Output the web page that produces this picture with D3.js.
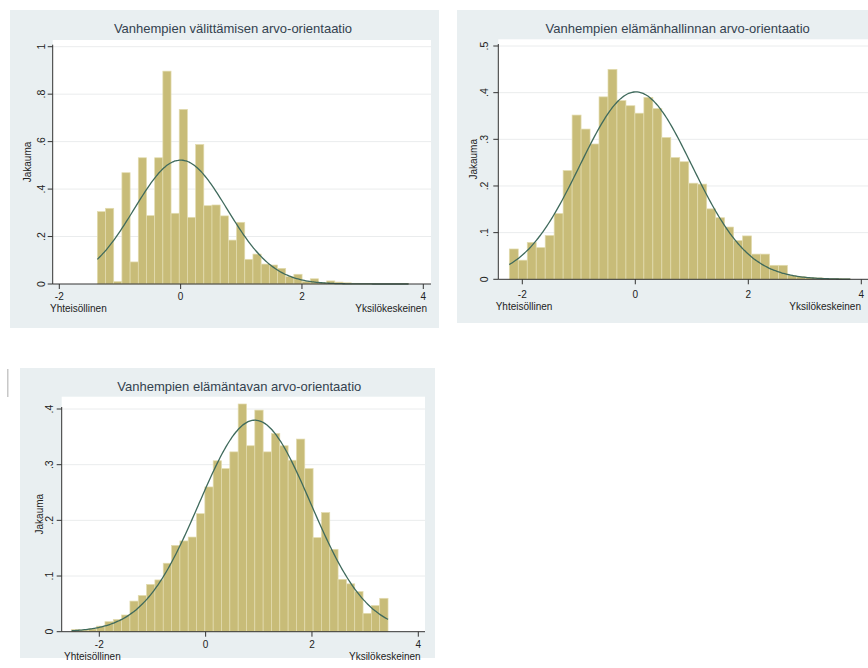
<!DOCTYPE html>
<html>
<head>
<meta charset="utf-8">
<script src="https://cdn.jsdelivr.net/npm/d3@7"></script>
<style>
  body { margin: 0; background: #ffffff; }
  svg { display: block; }
  text { font-family: "Liberation Sans", Arial, sans-serif; }
</style>
</head>
<body>
<svg id="chart" width="868" height="668"></svg>
<script>
// ---------- data ----------
const titles = [
  "Vanhempien välittämisen arvo-orientaatio",
  "Vanhempien elämänhallinnan arvo-orientaatio",
  "Vanhempien elämäntavan arvo-orientaatio"
];
const yAxisTitle = "Jakauma";
const leftLabel = "Yhteisöllinen";
const rightLabel = "Yksilökeskeinen";
const xTicks = [-2, 0, 2, 4];

// Panel 1: välittäminen
const p1BinStart = -1.373, p1BinWidth = 0.135;
const p1Density = [0.305, 0.319, 0.010, 0.469, 0.093, 0.532, 0.288, 0.532, 0.897, 0.298,
                   0.736, 0.281, 0.588, 0.330, 0.333, 0.287, 0.185, 0.260, 0.104, 0.126,
                   0.084, 0.080, 0.066, 0.031, 0.041, 0.011, 0.022, 0.006, 0.013, 0.008,
                   0.005, 0.003, 0.002, 0.002, 0.001, 0.001, 0.001, 0.002];
const p1Normal = [0.0, 0.764];   // mean, sd
const p1YTicks = [0, 0.2, 0.4, 0.6, 0.8, 1];

// Panel 2: elämänhallinta
const p2BinStart = -2.23, p2BinWidth = 0.1588;
const p2Density = [0.065, 0.041, 0.079, 0.068, 0.094, 0.141, 0.233, 0.352, 0.322, 0.290,
                   0.391, 0.450, 0.383, 0.372, 0.356, 0.390, 0.366, 0.304, 0.261, 0.252,
                   0.206, 0.204, 0.151, 0.132, 0.112, 0.083, 0.093, 0.054, 0.054, 0.030,
                   0.030, 0.008, 0.006, 0.004, 0.003, 0.002, 0.002, 0.001];
const p2Normal = [0.01, 0.993];
const p2YTicks = [0, 0.1, 0.2, 0.3, 0.4, 0.5];

// Panel 3: elämäntapa
const p3BinStart = -2.52, p3BinWidth = 0.1566;
const p3Density = [0.004, 0.003, 0.005, 0.010, 0.018, 0.022, 0.030, 0.055, 0.065, 0.085,
                   0.093, 0.123, 0.155, 0.163, 0.170, 0.212, 0.260, 0.307, 0.293, 0.323,
                   0.409, 0.334, 0.398, 0.323, 0.356, 0.334, 0.308, 0.346, 0.293, 0.169,
                   0.214, 0.148, 0.094, 0.086, 0.072, 0.033, 0.047, 0.060];
const p3Normal = [0.927, 1.05];
const p3YTicks = [0, 0.1, 0.2, 0.3, 0.4];

// ---------- layout ----------
const panels = [
  { title: titles[0], binStart: p1BinStart, binWidth: p1BinWidth, density: p1Density, normal: p1Normal, yTicks: p1YTicks,
    bg: [10, 10, 439, 328], plot: [52.7, 40, 431, 284], xr: [59.3, 423.3], yr: [284, 46.7], yDom: [0, 1],
    titleX: 233, titleY: 33, tickOff: 15.5, labOff: 28, leftX: 50, rightX: 427, yTickX: -11, yTitleX: -25 },
  { title: titles[1], binStart: p2BinStart, binWidth: p2BinWidth, density: p2Density, normal: p2Normal, yTicks: p2YTicks,
    bg: [457, 10, 870, 323], plot: [498.3, 39.3, 870, 279.3], xr: [522.3, 861.3], yr: [279.3, 46], yDom: [0, 0.5],
    titleX: 677.7, titleY: 32.5, tickOff: 18.5, labOff: 30.5, leftX: 495.7, rightX: 861, yTickX: -13.5, yTitleX: -25 },
  { title: titles[2], binStart: p3BinStart, binWidth: p3BinWidth, density: p3Density, normal: p3Normal, yTicks: p3YTicks,
    bg: [20, 368, 435, 658], plot: [61.7, 396.7, 425, 631.7], xr: [99.3, 418.3], yr: [631.7, 409], yDom: [0, 0.4],
    titleX: 239.3, titleY: 391, tickOff: 16, labOff: 28, leftX: 64, rightX: 420.7, yTickX: -12, yTitleX: -22.5 }
];

const svg = d3.select("#chart");
const fmt = v => v === 0 ? "0" : (v === 1 ? "1" : d3.format(".1f")(v).replace(/^0/, ""));

// small stray mark at left edge of the original
svg.append("rect").attr("x", 7).attr("y", 369).attr("width", 1.5).attr("height", 28).attr("fill", "#c8c8c8");

panels.forEach(p => {
  const g = svg.append("g");
  const [bx0, by0, bx1, by1] = p.bg;
  g.append("rect").attr("x", bx0).attr("y", by0).attr("width", bx1 - bx0).attr("height", by1 - by0)
    .attr("fill", "#e9eff1");
  const [px0, py0, px1, py1] = p.plot;
  g.append("rect").attr("x", px0).attr("y", py0).attr("width", px1 - px0).attr("height", py1 - py0)
    .attr("fill", "#ffffff");

  const x = d3.scaleLinear().domain([-2, 4]).range(p.xr);
  const y = d3.scaleLinear().domain(p.yDom).range(p.yr);

  // gridlines
  g.selectAll(".grid").data(p.yTicks.filter(t => t > 0)).join("line")
    .attr("x1", px0).attr("x2", px1)
    .attr("y1", d => y(d)).attr("y2", d => y(d))
    .attr("stroke", "#eaeced").attr("stroke-width", 1);

  // bars
  g.selectAll(".bar").data(p.density).join("rect")
    .attr("x", (d, i) => x(p.binStart + i * p.binWidth))
    .attr("width", x(p.binWidth) - x(0))
    .attr("y", d => y(d))
    .attr("height", d => y(0) - y(d))
    .attr("fill", "#c8bc78")
    .attr("stroke", "#e3dcb0")
    .attr("stroke-width", 0.7);

  // normal density overlay
  const lo = p.binStart, hi = p.binStart + p.density.length * p.binWidth;
  const [mu, sd] = p.normal;
  const pts = d3.range(0, 201).map(k => {
    const xv = lo + (hi - lo) * k / 200;
    return [xv, Math.exp(-0.5 * ((xv - mu) / sd) ** 2) / (sd * Math.sqrt(2 * Math.PI))];
  });
  g.append("path").datum(pts)
    .attr("d", d3.line().x(d => x(d[0])).y(d => y(d[1])).curve(d3.curveBasis))
    .attr("fill", "none").attr("stroke", "#3f6a5c").attr("stroke-width", 1.3);

  // axes
  g.append("line").attr("x1", px0).attr("x2", px1).attr("y1", py1).attr("y2", py1)
    .attr("stroke", "#333").attr("stroke-width", 1);
  g.append("line").attr("x1", px0).attr("x2", px0).attr("y1", y(p.yDom[1]) - 2).attr("y2", py1)
    .attr("stroke", "#333").attr("stroke-width", 1);

  // x ticks
  g.selectAll(".xt").data(xTicks).join("line")
    .attr("x1", d => x(d)).attr("x2", d => x(d)).attr("y1", py1).attr("y2", py1 + 5)
    .attr("stroke", "#333");
  g.selectAll(".xl").data(xTicks).join("text")
    .attr("x", d => x(d)).attr("y", py1 + p.tickOff)
    .attr("text-anchor", "middle").attr("font-size", 10).attr("fill", "#222")
    .text(d => d);

  // y ticks
  g.selectAll(".yt").data(p.yTicks).join("line")
    .attr("x1", px0 - 5).attr("x2", px0).attr("y1", d => y(d)).attr("y2", d => y(d))
    .attr("stroke", "#333");
  g.selectAll(".yl").data(p.yTicks).join("text")
    .attr("transform", d => `translate(${px0 + p.yTickX},${y(d)}) rotate(-90)`)
    .attr("text-anchor", "middle").attr("dy", "0.35em")
    .attr("font-size", 10.5).attr("fill", "#222")
    .text(d => fmt(d));

  // y title
  g.append("text")
    .attr("transform", `translate(${px0 + p.yTitleX},${(py0 + py1) / 2}) rotate(-90)`)
    .attr("text-anchor", "middle").attr("dy", "0.35em")
    .attr("font-size", 10).attr("fill", "#222").text(yAxisTitle);

  // end labels
  g.append("text").attr("x", p.leftX).attr("y", py1 + p.labOff)
    .attr("font-size", 10).attr("fill", "#222").text(leftLabel);
  g.append("text").attr("x", p.rightX).attr("y", py1 + p.labOff)
    .attr("text-anchor", "end").attr("font-size", 10).attr("fill", "#222").text(rightLabel);

  // title
  g.append("text").attr("x", p.titleX).attr("y", p.titleY)
    .attr("text-anchor", "middle").attr("font-size", 13).attr("fill", "#34424f").text(p.title);
});
</script>
</body>
</html>
